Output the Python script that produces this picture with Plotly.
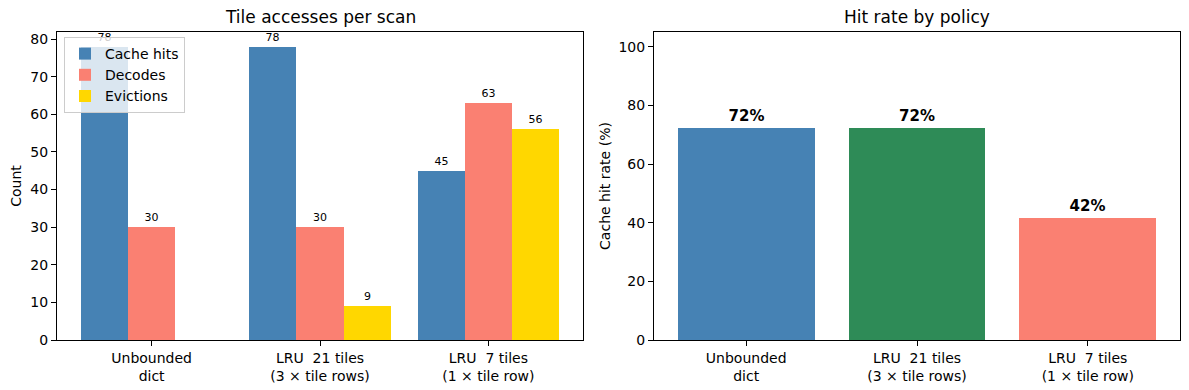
import plotly.graph_objects as go

categories = ["Unbounded<br>dict", "LRU  21 tiles<br>(3 × tile rows)", "LRU  7 tiles<br>(1 × tile row)"]
cache_hits = [78, 78, 45]
decodes = [30, 30, 63]
evictions = [0, 9, 56]
hit_rate = [72.2, 72.2, 41.7]

series = [("Cache hits", cache_hits, "#4682B4"),
          ("Decodes", decodes, "#FA8072"),
          ("Evictions", evictions, "#FFD700")]
rate_colors = ["#4682B4", "#2E8B57", "#FA8072"]

W, H = 1189, 390
FONT = "DejaVu Sans"
bw = 0.28
pos = list(range(len(categories)))

fig = go.Figure()
for i, (name, vals, col) in enumerate(series):
    fig.add_trace(go.Bar(
        x=pos, y=vals, name=name, marker=dict(color=col, line=dict(width=0)),
        width=bw, offset=-1.5 * bw + i * bw,
        text=[str(v) if v > 0 else "" for v in vals],
        textposition="outside", cliponaxis=False,
        textfont=dict(size=11, color="black", family=FONT),
        xaxis="x", yaxis="y"))

fig.add_trace(go.Bar(
    x=pos, y=hit_rate, showlegend=False,
    marker=dict(color=rate_colors, line=dict(width=0)),
    width=0.8, offset=-0.4,
    text=[f"<b>{round(v)}%</b>" for v in hit_rate],
    textposition="outside", cliponaxis=False,
    textfont=dict(size=15, color="black", family=FONT),
    xaxis="x2", yaxis="y2"))

def px_x(p):
    return p / W

def px_y(p):
    return (H - p) / H

axis_common = dict(showline=True, mirror=True, linecolor="black", linewidth=1,
                   ticks="outside", ticklen=5, tickcolor="black", tickwidth=1,
                   showgrid=False, zeroline=False, automargin=False,
                   tickfont=dict(size=14, color="black", family=FONT))

fig.update_layout(
    width=W, height=H, margin=dict(l=0, r=0, t=0, b=0),
    paper_bgcolor="white", plot_bgcolor="white",
    barmode="overlay", bargap=0,
    font=dict(family=FONT, color="black"),
    xaxis=dict(domain=[px_x(57), px_x(583)], range=[-0.562, 2.562],
               tickvals=pos, ticktext=categories, anchor="y", **axis_common),
    yaxis=dict(domain=[px_y(340), px_y(32)], range=[0, 81.9], dtick=10,
               anchor="x",
               title=dict(text="Count", font=dict(size=14, family=FONT), standoff=5),
               **axis_common),
    xaxis2=dict(domain=[px_x(654), px_x(1180)], range=[-0.54, 2.54],
                tickvals=pos, ticktext=categories, anchor="y2", **axis_common),
    yaxis2=dict(domain=[px_y(340), px_y(32)], range=[0, 105], dtick=20,
                anchor="x2",
                title=dict(text="Cache hit rate (%)", font=dict(size=14, family=FONT), standoff=4),
                **axis_common),
    legend=dict(x=px_x(64), y=px_y(37), xanchor="left", yanchor="top",
                bgcolor="rgba(255,255,255,0.8)", bordercolor="#cccccc", borderwidth=1,
                font=dict(size=14, family=FONT, color="black"),
                itemwidth=30, tracegroupgap=0),
    annotations=[
        dict(text="Tile accesses per scan", x=px_x(320), y=px_y(17), xref="paper", yref="paper",
             showarrow=False, xanchor="center", yanchor="middle",
             font=dict(size=17, family=FONT, color="black")),
        dict(text="Hit rate by policy", x=px_x(917), y=px_y(17), xref="paper", yref="paper",
             showarrow=False, xanchor="center", yanchor="middle",
             font=dict(size=17, family=FONT, color="black")),
    ],
)

fig.write_html("out.html", config={"displayModeBar": False},
               post_script="document.body.style.margin='0';")
